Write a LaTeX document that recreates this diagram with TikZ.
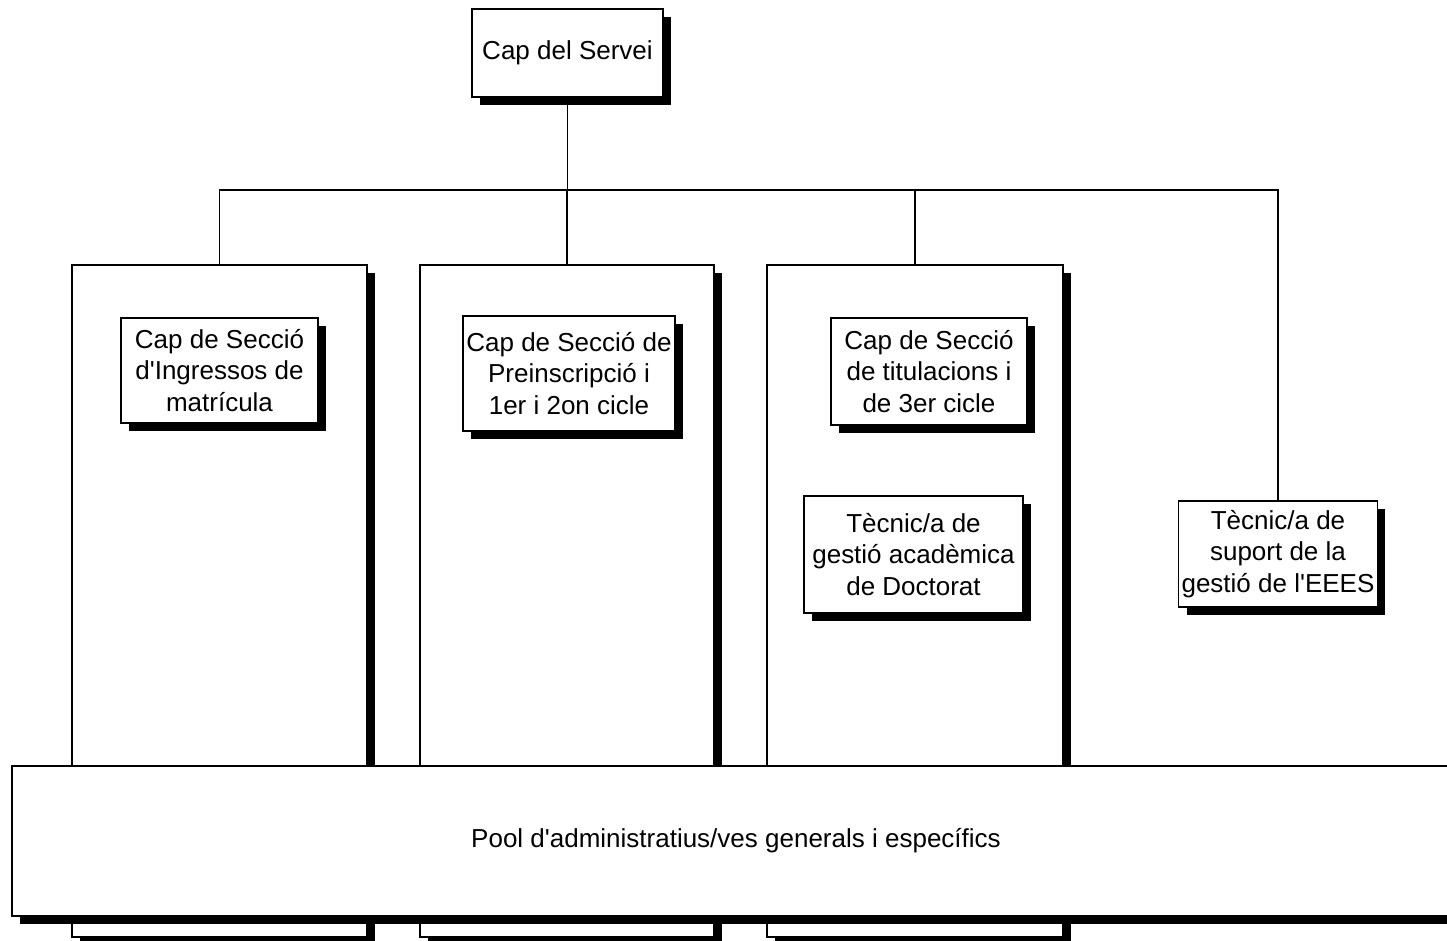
\documentclass[tikz,border=0pt]{standalone}
\usepackage{fontspec}
\setmainfont{Liberation Sans}
\usetikzlibrary{shadows}
\newlength\px
\setlength\px{0.75pt}
\begin{document}
\begin{tikzpicture}[x=0.75pt,y=-0.75pt,
  orgbox/.style={draw=black, line width=0.8pt, fill=white, rectangle, inner sep=2pt,
    align=center, font=\fontsize{19.5}{23.8}\selectfont,
    drop shadow={shadow xshift=6pt, shadow yshift=-6pt, fill=black, opacity=1}},
  conn/.style={draw=black, line width=1.3pt}]
\useasboundingbox (0,0) rectangle (1447,940);
\clip (0,0) rectangle (1447,940);
\fill[white] (0,0) rectangle (1447,940);
% columns
\node[orgbox, minimum width=295\px, minimum height=672\px] (col1) at (219.5,601) {};
\node[orgbox, minimum width=294\px, minimum height=672\px] (col2) at (567,601) {};
\node[orgbox, minimum width=296\px, minimum height=672\px] (col3) at (915,601) {};
% top
\node[orgbox, minimum width=191\px, minimum height=88\px] (boss) at (567.5,53) {Cap del Servei};
\coordinate (bus) at (567.5,190);
% inner boxes
\node[orgbox, minimum width=197\px, minimum height=105\px] (s1) at (219.5,370.5) {Cap de Secció\\d\textquotesingle Ingressos de\\matrícula};
\node[orgbox, minimum width=212\px, minimum height=115\px] (s2) at (569,373.5) {Cap de Secció de\\Preinscripció i\\1er i 2on cicle};
\node[orgbox, minimum width=196\px, minimum height=107\px] (s3) at (929,371.5) {Cap de Secció\\de titulacions i\\de 3er cicle};
\node[orgbox, minimum width=219\px, minimum height=117\px] (doc) at (913.5,554.5) {Tècnic/a de\\gestió acadèmica\\de Doctorat};
\node[orgbox, minimum width=196\px, minimum height=106\px] (eees) at (1278,554) {Tècnic/a de\\suport de la\\gestió de l\textquotesingle EEES};
% pool
\node[orgbox, minimum width=1448\px, minimum height=150\px] (pool) at (736,841) {Pool d\textquotesingle administratius/ves generals i específics};
% connectors
\draw[conn] (boss.south) -- (bus);
\draw[conn] (col1.north) |- (bus);
\draw[conn] (col2.north) |- (bus);
\draw[conn] (col3.north) |- (bus);
\draw[conn] (eees.north) |- (bus);
\end{tikzpicture}
\end{document}
